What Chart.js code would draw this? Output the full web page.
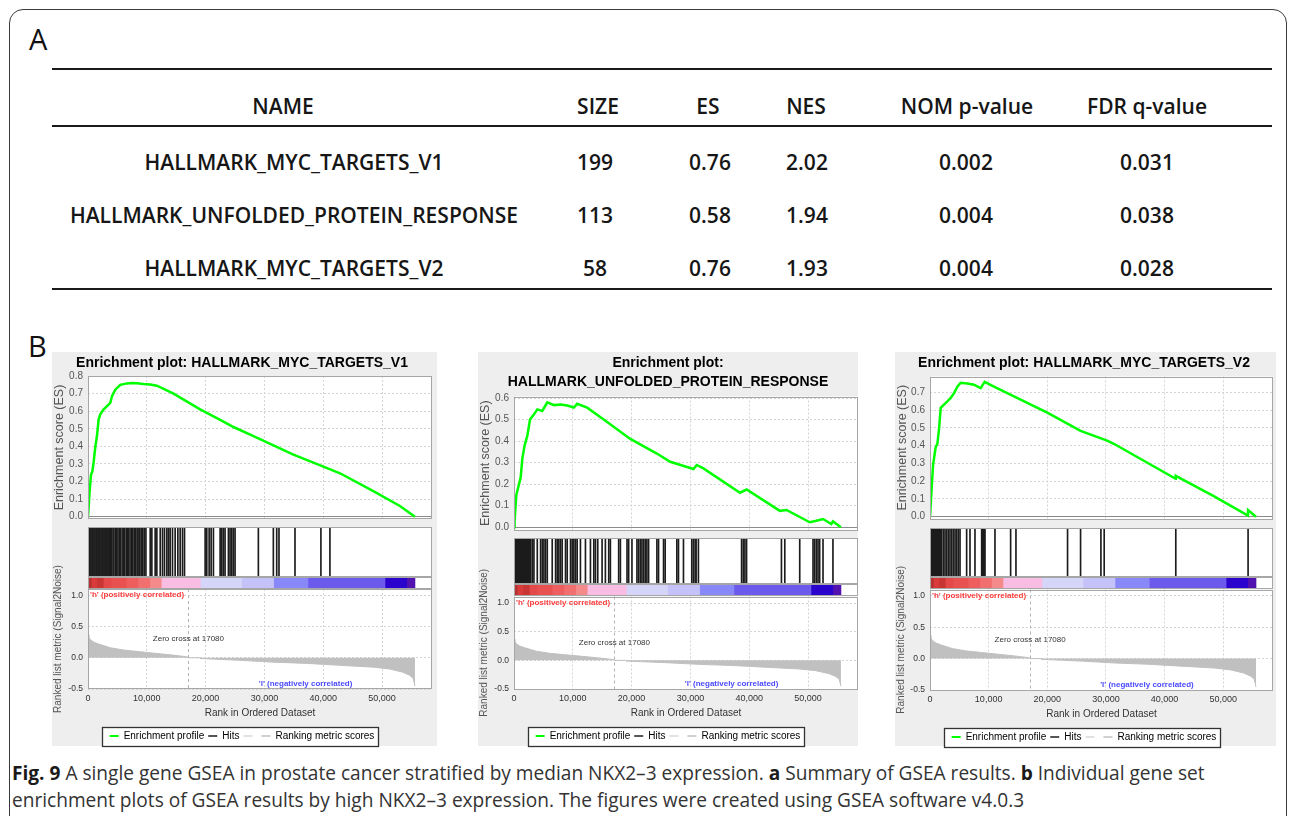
<!DOCTYPE html>
<html>
<head>
<meta charset="utf-8">
<title>GSEA by NKX2-3 expression</title>
<script src="https://cdn.jsdelivr.net/npm/chart.js@4.4.1/dist/chart.umd.min.js"></script>
<style>
  html, body { margin: 0; padding: 0; background: #fff; }
  body { position: relative; width: 1293px; height: 816px; overflow: hidden; font-family: "Open Sans", "Noto Sans", sans-serif; color: #111; }
  .frame { position: absolute; left: 9px; top: 9px; width: 1276px; height: 900px; border: 1.5px solid #3a3a3a; border-radius: 14px; }
  .tag { position: absolute; font-size: 29px; line-height: 29px; color: #111; }
  .rule { position: absolute; left: 52px; width: 1220px; height: 2px; background: #1a1a1a; }
  .cell { position: absolute; transform: translate(-50%, -50%); white-space: nowrap; font-size: 21px; line-height: 21px; font-weight: 600; color: #161616; }
  .panel { position: absolute; background: #eeeeee; }
  .panel canvas { position: absolute; }
  .caption { position: absolute; left: 12px; top: 759px; font-size: 20px; line-height: 27px; color: #333; white-space: nowrap; transform-origin: 0 0; transform: scaleX(0.955); }
  .caption b { color: #1a1a1a; }
</style>
</head>
<body>
<div class="frame"></div>
<div class="tag" style="left:29px;top:24px">A</div>
<div class="rule" style="top:68px"></div>
<div class="rule" style="top:125px"></div>
<div class="rule" style="top:288px"></div>
<div id="table"></div>
<div class="tag" style="left:28px;top:331px">B</div>
<div id="plots"></div>
<div class="caption"><b>Fig. 9</b> A single gene GSEA in prostate cancer stratified by median NKX2&ndash;3 expression. <b>a</b> Summary of GSEA results. <b>b</b> Individual gene set<br>enrichment plots of GSEA results by high NKX2&ndash;3 expression. The figures were created using GSEA software v4.0.3</div>
<script>
// ---- summary table ----
const columns = ['NAME', 'SIZE', 'ES', 'NES', 'NOM p-value', 'FDR q-value'];
const geneSets = ['HALLMARK_MYC_TARGETS_V1', 'HALLMARK_UNFOLDED_PROTEIN_RESPONSE', 'HALLMARK_MYC_TARGETS_V2'];
const setSize = [199, 113, 58];
const esValue = [0.76, 0.58, 0.76];
const nesValue = [2.02, 1.94, 1.93];
const nomP = [0.002, 0.004, 0.004];
const fdrQ = [0.031, 0.038, 0.028];

// ---- enrichment plots ----
const XMAX = 58500;
const ZERO_CROSS = 17080;
const rankTicks = [0, 10000, 20000, 30000, 40000, 50000];
const metricTicks = [-0.5, 0, 0.5, 1.0];

const plotTitles = [
  'Enrichment plot: HALLMARK_MYC_TARGETS_V1',
  ['Enrichment plot:', 'HALLMARK_UNFOLDED_PROTEIN_RESPONSE'],
  'Enrichment plot: HALLMARK_MYC_TARGETS_V2'
];
const esTicks = [
  [0, 0.1, 0.2, 0.3, 0.4, 0.5, 0.6, 0.7, 0.8],
  [0, 0.1, 0.2, 0.3, 0.4, 0.5, 0.6],
  [0, 0.1, 0.2, 0.3, 0.4, 0.5, 0.6, 0.7]
];

// running enrichment score, rank position / score
const esRankV1 = [0, 280, 510, 740, 960, 1240, 1530, 1810, 2090, 2660, 3230, 3790, 4080, 4640, 5490, 6620, 7500, 8320, 9450, 10580, 11710, 14550, 19070, 22480, 24740, 28140, 31540, 34930, 40030, 42860, 48520, 53050, 55600];
const esScoreV1 = [0, 0.145, 0.238, 0.257, 0.31, 0.396, 0.46, 0.554, 0.582, 0.61, 0.629, 0.647, 0.685, 0.722, 0.75, 0.758, 0.76, 0.759, 0.755, 0.752, 0.745, 0.70, 0.61, 0.55, 0.51, 0.458, 0.405, 0.353, 0.285, 0.247, 0.145, 0.061, 0];

const esRankUPR = [0, 100, 400, 850, 1130, 1420, 1810, 2270, 2720, 3400, 3960, 4810, 5660, 6790, 7920, 9050, 10180, 10740, 12440, 15260, 19780, 24300, 26560, 30520, 31080, 32210, 38430, 39560, 45210, 46340, 50290, 51420, 52550, 53960, 54240, 55600];
const esScoreUPR = [0, 0.03, 0.15, 0.2, 0.23, 0.32, 0.38, 0.425, 0.50, 0.524, 0.547, 0.54, 0.58, 0.567, 0.57, 0.565, 0.556, 0.573, 0.555, 0.50, 0.41, 0.342, 0.304, 0.27, 0.289, 0.273, 0.16, 0.175, 0.076, 0.08, 0.023, 0.03, 0.038, 0.015, 0.027, 0];

const esRankV2 = [0, 290, 520, 687, 970, 1255, 1540, 1824, 2390, 2960, 3530, 4100, 4670, 5230, 6370, 7500, 8640, 9320, 10910, 14320, 20000, 25680, 30220, 31350, 41900, 41920, 48390, 54230, 54250, 55600];
const esScoreV2 = [0, 0.162, 0.291, 0.328, 0.392, 0.41, 0.494, 0.613, 0.632, 0.65, 0.669, 0.696, 0.733, 0.755, 0.751, 0.744, 0.724, 0.76, 0.733, 0.678, 0.586, 0.484, 0.429, 0.411, 0.214, 0.23, 0.116, 0.006, 0.037, 0];

const esRank = [esRankV1, esRankUPR, esRankV2];
const esScore = [esScoreV1, esScoreUPR, esScoreV2];

// positions of gene set members in the ranked list
const hitsV1 = [40, 200, 350, 520, 700, 860, 1030, 1200, 1380, 1540, 1720, 1890, 2050, 2230, 2400, 2570, 2740, 2910, 3080, 3250, 3420, 3600, 3780, 4000, 4250, 4420, 4700, 4880, 5100, 5350, 5520, 5800, 6050, 6230, 6500, 6720, 6900, 7150, 7420, 7600, 7850, 8100, 8350, 8520, 8800, 9050, 9300, 9560, 9850, 10580, 10860, 11420, 11710, 12280, 12670, 13010, 13410, 13690, 13970, 14370, 14820, 15280, 15670, 16070, 16410, 19920, 20200, 20600, 20940, 21330, 22470, 22750, 23030, 23310, 23880, 24160, 24450, 24730, 25010, 28970, 31520, 32090, 32480, 35200, 39610, 41140];
const hitsUPR = [120, 280, 450, 620, 790, 960, 1130, 1300, 1470, 1640, 1810, 1980, 2150, 2320, 2490, 2660, 2830, 3110, 3390, 3960, 4520, 4810, 5090, 5370, 5660, 6500, 7070, 7350, 7630, 7920, 8200, 8760, 9050, 9610, 9890, 10180, 10460, 10740, 11300, 12150, 13000, 13570, 13850, 14240, 14980, 15540, 16110, 16390, 17800, 18090, 19220, 19500, 20060, 20910, 21190, 21480, 21760, 22040, 22320, 22600, 22890, 24300, 24580, 25430, 25710, 27690, 27970, 28820, 30230, 30510, 30800, 30970, 31360, 38700, 38990, 39270, 39550, 45480, 46050, 48590, 50850, 51130, 51420, 51700, 51980, 52550, 54240];
const hitsV2 = [120, 290, 460, 630, 800, 970, 1140, 1310, 1480, 1650, 1820, 1990, 2280, 2560, 2850, 3130, 3410, 3700, 3980, 4270, 4550, 4830, 5120, 6250, 6820, 7670, 8810, 8950, 9090, 9240, 9380, 11080, 13750, 14660, 23460, 25680, 29150, 29710, 41920, 54250];
const hits = [hitsV1, hitsUPR, hitsV2];

// class colour band under the hit marks
const colorBreaks = [0, 600, 1500, 2600, 4000, 6500, 8500, 10500, 12450, 19100, 26100, 31550, 37400, 50500, 54200, 55600];
const colorBand = ['#b83030', '#d93b3b', '#c93535', '#e44848', '#e95050', '#ee5e5e', '#f16f6f', '#f48a8a', '#f9bde3', '#d5d5f9', '#c5c1f9', '#8888f9', '#6b5aeb', '#2a04cc', '#5212b0'];

// ranked list metric (same list for every gene set)
const rankPos = [0, 150, 400, 1000, 1800, 3800, 6000, 8800, 11600, 14400, 16700, 17000, 17080, 19000, 19050, 25800, 31500, 37200, 42800, 48500, 51300, 53500, 54700, 55300, 55600];
const rankMetric = [0.37, 0.33, 0.29, 0.25, 0.22, 0.16, 0.124, 0.097, 0.07, 0.043, 0.016, 0.012, 0, 0, -0.012, -0.04, -0.07, -0.09, -0.12, -0.15, -0.18, -0.23, -0.28, -0.33, -0.45];

// pixel layout of the three panels
const panels = [
  { left: 52, top: 352, width: 385, height: 394, areaL: 88, areaR: 432, esTop: 376, esBot: 522, hitsTop: 527, hitsBot: 577, barBot: 589, rankBot: 689, esMax: 0.8, rankMax: 1.1 },
  { left: 478, top: 352, width: 380, height: 394, areaL: 514, areaR: 858, esTop: 396.5, esBot: 533, hitsTop: 537.5, hitsBot: 584, barBot: 596, rankBot: 688.5, esMax: 0.607, rankMax: 1.115 },
  { left: 895, top: 352, width: 381, height: 394, areaL: 930, areaR: 1273, esTop: 376.5, esBot: 522, hitsTop: 527.5, hitsBot: 577, barBot: 589, rankBot: 689, esMax: 0.79, rankMax: 1.1 }
];

// ---- table ----
const headerX = [283, 598, 708, 806, 967, 1147];
const cellX = [294, 595, 710, 807, 966, 1147];
const rowY = [162, 215, 268];
const table = document.getElementById('table');
function putCell(text, x, y) {
  const d = document.createElement('div');
  d.className = 'cell';
  d.textContent = text;
  d.style.left = x + 'px';
  d.style.top = y + 'px';
  table.appendChild(d);
}
columns.forEach((c, j) => putCell(c, headerX[j], 106));
geneSets.forEach((g, i) => {
  const row = [g, setSize[i], esValue[i].toFixed(2), nesValue[i].toFixed(2), nomP[i].toFixed(3), fdrQ[i].toFixed(3)];
  row.forEach((v, j) => putCell(v, cellX[j], rowY[i]));
});

// ---- charts ----
const FONT = '"Liberation Sans", Arial, sans-serif';
Chart.defaults.font.family = FONT;
Chart.defaults.animation = false;

// white plot area with a thin grey frame
const boxPlugin = {
  id: 'box',
  beforeDraw(chart) {
    const a = chart.chartArea, c = chart.ctx;
    c.save();
    c.fillStyle = '#ffffff';
    c.fillRect(a.left, a.top, a.right - a.left, a.bottom - a.top);
    c.restore();
  },
  afterDraw(chart) {
    const a = chart.chartArea, c = chart.ctx;
    c.save();
    c.strokeStyle = '#a6a6a6';
    c.lineWidth = 1;
    c.strokeRect(Math.round(a.left) + 0.5, Math.round(a.top) + 0.5, Math.round(a.right - a.left) - 1, Math.round(a.bottom - a.top) - 1);
    c.restore();
  }
};

// boxed legend like the GSEA desktop output
function legendRect(chart) {
  const hb = chart.legend.legendHitBoxes;
  const l = Math.min(...hb.map(h => h.left));
  const r = Math.max(...hb.map(h => h.left + h.width));
  const cy = hb[0].top + hb[0].height / 2;
  return { l: Math.round(l - 8) + 0.5, r: Math.round(r + 4) + 0.5, t: Math.round(cy - 9.5) + 0.5, b: Math.round(cy + 9.5) + 0.5 };
}
const legendFrame = {
  id: 'legendFrame',
  beforeDraw(chart) {
    const r = legendRect(chart), c = chart.ctx;
    c.save();
    c.fillStyle = '#ffffff';
    c.fillRect(r.l, r.t, r.r - r.l, r.b - r.t);
    c.restore();
  },
  afterDraw(chart) {
    const r = legendRect(chart), c = chart.ctx;
    c.save();
    c.strokeStyle = '#333';
    c.lineWidth = 1.3;
    c.strokeRect(r.l, r.t, r.r - r.l, r.b - r.t);
    c.restore();
  }
};

// text notes and the zero-cross marker on the ranked metric plot
function makeNotes(notes, crossAt) {
  return {
    id: 'notes',
    afterDatasetsDraw(chart) {
      const { ctx, chartArea: a, scales: { x, y } } = chart;
      ctx.save();
      const px = Math.round(x.getPixelForValue(crossAt)) + 0.5;
      ctx.strokeStyle = '#b4b4b4';
      ctx.lineWidth = 1;
      ctx.setLineDash([3, 3]);
      ctx.beginPath();
      ctx.moveTo(px, a.top);
      ctx.lineTo(px, a.bottom);
      ctx.stroke();
      ctx.setLineDash([]);
      notes.forEach(n => {
        ctx.font = n.font;
        ctx.fillStyle = n.color;
        ctx.textAlign = n.align;
        ctx.textBaseline = 'middle';
        ctx.fillText(n.text, x.getPixelForValue(n.x) + (n.dx || 0), y.getPixelForValue(n.y));
      });
      ctx.restore();
    }
  };
}

const notes = [
  { text: "'h' (positively correlated)", x: 0, y: 1.0, dx: 2, align: 'left', color: '#ff3c3c', font: 'bold 8px ' + FONT },
  { text: 'Zero cross at ' + ZERO_CROSS, x: ZERO_CROSS, y: 0.3, align: 'center', color: '#333', font: '8px ' + FONT },
  { text: "'l' (negatively correlated)", x: 37000, y: -0.41, align: 'center', color: '#4b4bff', font: 'bold 8px ' + FONT }
];

const legendItems = [
  { text: 'Enrichment profile', strokeStyle: '#00ff00', fillStyle: '#00ff00', lineWidth: 2, pointStyle: 'line', hidden: false },
  { text: 'Hits', strokeStyle: '#555555', fillStyle: '#555555', lineWidth: 2, pointStyle: 'line', hidden: false },
  { text: '', strokeStyle: '#e2e2e2', fillStyle: '#e2e2e2', lineWidth: 2, pointStyle: 'line', hidden: false },
  { text: 'Ranking metric scores', strokeStyle: '#d0d0d0', fillStyle: '#d0d0d0', lineWidth: 2, pointStyle: 'line', hidden: false }
];

const gridColor = '#d4d4d4';
const base = { responsive: false, maintainAspectRatio: false, animation: false, devicePixelRatio: 1, events: [] };

function drawPanel(p, k) {
  const panel = document.createElement('div');
  panel.className = 'panel';
  Object.assign(panel.style, { left: p.left + 'px', top: p.top + 'px', width: p.width + 'px', height: p.height + 'px' });
  document.getElementById('plots').appendChild(panel);

  const addCanvas = (x, y, w, h) => {
    const c = document.createElement('canvas');
    c.width = w;
    c.height = h;
    Object.assign(c.style, { left: x + 'px', top: y + 'px', width: w + 'px', height: h + 'px' });
    panel.appendChild(c);
    return c;
  };
  const areaW = p.areaR - p.areaL;
  const axisW = p.areaL - p.left;
  const padR = p.left + p.width - p.areaR;

  // running enrichment score
  const title = plotTitles[k];
  const lines = Array.isArray(title) ? title.length : 1;
  const lh = lines > 1 ? 19 : 16.8;
  const titleTop = 10.7 - lh / 2;
  const titleBottom = (p.esTop - p.top) - titleTop - lines * lh;
  new Chart(addCanvas(0, 0, p.width, p.esBot - p.top + 8), {
    type: 'line',
    data: {
      datasets: [{
        data: esRank[k].map((r, i) => ({ x: r, y: esScore[k][i] })),
        borderColor: '#00ff00', borderWidth: 2.5, pointRadius: 0, fill: false, tension: 0
      }]
    },
    options: {
      ...base,
      layout: { padding: { left: 0, right: padR, top: 0, bottom: 0 } },
      plugins: {
        legend: { display: false }, tooltip: { enabled: false },
        title: {
          display: true, text: title, color: '#000',
          font: { size: 14, weight: 'bold', lineHeight: lh / 14 },
          padding: { top: titleTop, bottom: titleBottom }
        }
      },
      scales: {
        x: {
          type: 'linear', min: 0, max: XMAX,
          afterBuildTicks: s => { s.ticks = rankTicks.map(v => ({ value: v })); },
          afterFit: s => { s.height = 8; },
          ticks: { display: false },
          grid: { color: gridColor, drawTicks: false },
          border: { display: false, dash: [2, 2] }
        },
        y: {
          min: -0.013, max: p.esMax,
          afterBuildTicks: s => { s.ticks = esTicks[k].map(v => ({ value: v })); },
          afterFit: s => { s.width = axisW; },
          ticks: { padding: 5, color: '#555', font: { size: 10 }, callback: v => v.toFixed(1) },
          grid: { drawTicks: false, color: c => (c.tick && c.tick.value === 0 ? '#8c8c8c' : gridColor) },
          border: { display: false, dash: c => (c.tick && c.tick.value === 0 ? [] : [2, 2]) },
          title: { display: true, text: 'Enrichment score (ES)', color: '#555', font: { size: 12.5 }, padding: 0 }
        }
      }
    },
    plugins: [boxPlugin]
  });

  // ranked list metric with axis, notes and legend
  const rTop = p.hitsTop - p.top;
  const rH = p.rankBot - p.hitsTop + 38 + 26;
  const rank = new Chart(addCanvas(0, rTop, p.width, rH), {
    type: 'line',
    data: {
      datasets: [{
        data: rankPos.map((r, i) => ({ x: r, y: rankMetric[i] })),
        borderColor: '#c0c0c0', backgroundColor: '#c0c0c0', borderWidth: 1,
        pointRadius: 0, fill: 'origin', tension: 0
      }]
    },
    options: {
      ...base,
      layout: { padding: { left: 0, right: padR, top: p.barBot - p.hitsTop, bottom: 2 } },
      plugins: {
        tooltip: { enabled: false },
        legend: {
          position: 'bottom',
          labels: { font: { size: 10 }, color: '#000', usePointStyle: true, pointStyleWidth: 9, padding: 4, generateLabels: () => legendItems }
        }
      },
      scales: {
        x: {
          type: 'linear', min: 0, max: XMAX,
          afterBuildTicks: s => { s.ticks = rankTicks.map(v => ({ value: v })); },
          afterFit: s => { s.height = 38; },
          ticks: { padding: 4, color: '#333', font: { size: 9 }, callback: v => v.toLocaleString('en-US') },
          grid: { color: gridColor, drawTicks: false },
          border: { display: false, dash: [2, 2] },
          title: { display: true, text: 'Rank in Ordered Dataset', color: '#333', font: { size: 10 }, padding: { top: 0, bottom: 8 } }
        },
        y: {
          min: -0.5, max: p.rankMax,
          afterBuildTicks: s => { s.ticks = metricTicks.map(v => ({ value: v })); },
          afterFit: s => { s.width = axisW; },
          ticks: { padding: 5, color: '#333', font: { size: 8.5 }, callback: v => v.toFixed(1) },
          grid: { color: gridColor, drawTicks: false },
          border: { display: false, dash: [2, 2] },
          title: { display: true, text: 'Ranked list metric (Signal2Noise)', color: '#555', font: { size: 10 }, padding: 0 }
        }
      }
    },
    plugins: [boxPlugin, legendFrame, makeNotes(notes, ZERO_CROSS)]
  });
  const diff = (p.rankBot - p.hitsTop) - rank.chartArea.bottom;
  if (Math.abs(diff) > 0.25) rank.resize(p.width, rH + diff);

  // hit marks
  new Chart(addCanvas(axisW, p.hitsTop - p.top, areaW, p.hitsBot - p.hitsTop), {
    type: 'bar',
    data: {
      datasets: [{
        data: hits[k].map(r => ({ x: r, y: 1 })),
        backgroundColor: '#1c1c1c', barThickness: 1, borderWidth: 0
      }]
    },
    options: {
      ...base,
      plugins: { legend: { display: false }, tooltip: { enabled: false } },
      scales: {
        x: { type: 'linear', display: false, min: 0, max: XMAX, offset: false },
        y: { display: false, min: 0, max: 1 }
      }
    },
    plugins: [boxPlugin]
  });

  // colour band
  new Chart(addCanvas(axisW, p.hitsBot - p.top, areaW, p.barBot - p.hitsBot), {
    type: 'bar',
    data: {
      labels: [''],
      datasets: colorBand.map((col, i) => ({
        data: [colorBreaks[i + 1] - colorBreaks[i]],
        backgroundColor: col, borderWidth: 0, barPercentage: 1, categoryPercentage: 1
      }))
    },
    options: {
      ...base,
      indexAxis: 'y',
      plugins: { legend: { display: false }, tooltip: { enabled: false } },
      scales: {
        x: { type: 'linear', display: false, stacked: true, min: 0, max: XMAX },
        y: { display: false, stacked: true }
      }
    },
    plugins: [boxPlugin]
  });
}

panels.forEach(drawPanel);
</script>
</body>
</html>
